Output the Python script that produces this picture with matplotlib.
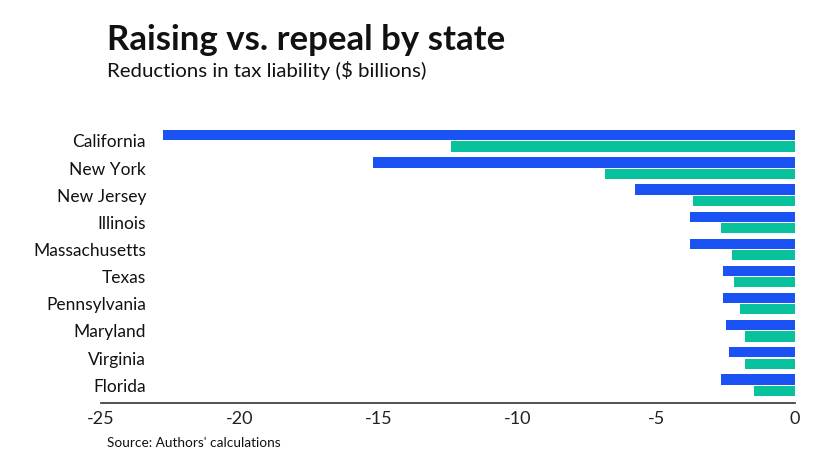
import matplotlib
matplotlib.use("Agg")
import matplotlib.pyplot as plt
import numpy as np

states = ["California", "New York", "New Jersey", "Illinois", "Massachusetts",
          "Texas", "Pennsylvania", "Maryland", "Virginia", "Florida"]
repeal = [-22.75, -15.2, -5.76, -3.78, -3.78, -2.58, -2.58, -2.49, -2.38, -2.68]
raising = [-12.4, -6.84, -3.66, -2.68, -2.28, -2.19, -1.98, -1.79, -1.79, -1.49]
xticks = [-25, -20, -15, -10, -5, 0]
xticklabels = ["-25", "-20", "-15", "-10", "-5", "0"]

plt.rcParams['font.family'] = ['Lato', 'DejaVu Sans']

fig = plt.figure(figsize=(8.4, 4.72), dpi=100)
ax = fig.add_axes([0.1202, 0.146, 0.8262, 0.583])

y = np.arange(len(states))
h = 0.375
ax.barh(y - h/2 - 0.02, repeal, height=h, color="#1a52f4", edgecolor="none")
ax.barh(y + h/2 + 0.02, raising, height=h, color="#08c29e", edgecolor="none")

ax.set_xlim(-25, 0)
ax.set_ylim(9.66, -0.48)
ax.set_xticks(xticks)
ax.set_xticklabels(xticklabels, fontsize=13, color="#222222")
ax.set_yticks(y)
ax.set_yticklabels(states, fontsize=12.5, color="#111111")
ax.tick_params(axis='y', length=0, pad=-32.5)
ax.tick_params(axis='x', length=0, pad=6)

for s in ["top", "right", "left"]:
    ax.spines[s].set_visible(False)
ax.spines["bottom"].set_color("#333333")
ax.spines["bottom"].set_linewidth(1.2)

fig.text(107/840, 1 - 50/472, "Raising vs. repeal by state", fontsize=25,
         fontweight="bold", color="#111111", ha="left", va="baseline")
fig.text(107/840, 1 - 77/472, "Reductions in tax liability ($ billions)", fontsize=14.7,
         color="#111111", ha="left", va="baseline")
fig.text(107/840, 1 - 447/472, "Source: Authors' calculations", fontsize=9.8,
         color="#111111", ha="left", va="baseline")

fig.savefig("out.png", dpi=100, facecolor="white")
